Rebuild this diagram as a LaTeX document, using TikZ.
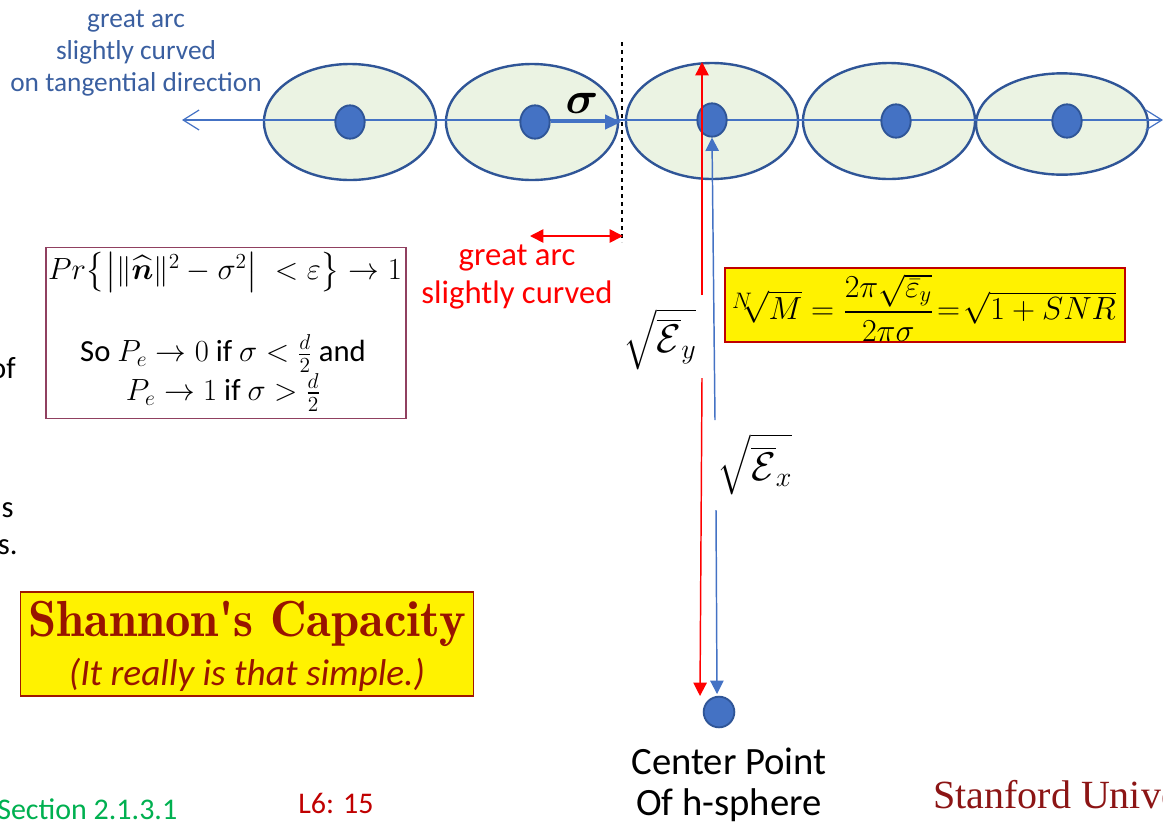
\RequirePackage{fix-cm}
\documentclass[tikz,border=0pt]{standalone}
\usepackage{amsmath,bm}
\usepackage{fontspec}
\setmainfont{Carlito}
\newfontfamily\stanfont{Liberation Serif}
\newcommand\lmfam{\fontfamily{lmr}\selectfont}
\usetikzlibrary{arrows.meta,shapes.geometric}
\definecolor{blueline}{HTML}{4472C4}
\definecolor{celldraw}{HTML}{2F5597}
\definecolor{cellfill}{HTML}{EBF3E3}
\definecolor{dotfill}{HTML}{4472C4}
\definecolor{txtblue}{HTML}{3A5FA0}
\definecolor{boxdraw}{HTML}{904060}
\definecolor{ybdraw}{HTML}{C00000}
\definecolor{shandraw}{HTML}{A01800}
\definecolor{shantext}{HTML}{981400}
\definecolor{stanred}{HTML}{8C1515}
\definecolor{secgreen}{HTML}{00B050}
\definecolor{lred}{HTML}{C00000}
\definecolor{redarr}{HTML}{FF0000}
\begin{document}
\begin{tikzpicture}[x=0.75pt,y=-0.75pt,
  cell/.style={ellipse, draw=celldraw, fill=cellfill, line width=1.8pt, inner sep=0pt, minimum width=129pt, minimum height=87pt},
  dot/.style={ellipse, draw=celldraw, fill=dotfill, line width=1.4pt, inner sep=0pt, minimum width=22pt, minimum height=25pt},
  lbl/.style={inner sep=0pt, align=center},
  redtip/.style={-{Triangle[length=10pt,width=10pt]}},
  bluetip/.style={-{Triangle[length=10pt,width=10pt]}},
]
\useasboundingbox (0,0) rectangle (1163,822);
% cells
\node[cell] (c1) at (350,122) {};
\node[cell] (c2) at (532,122) {};
\node[cell] (c3) at (712,121) {};
\node[cell] (c4) at (889,121) {};
\node[cell, minimum height=76pt] (c5) at (1062,124) {};
% tangential line
\coordinate (tl) at (182,120);
\coordinate (tr) at (1163,120);
\draw[blueline, line width=0.9pt, {Straight Barb[length=12pt,width=15pt]}-{Straight Barb[length=12pt,width=15pt]}] (tl) -- (tr);
% dots
\node[dot] (d1) at (350,122) {};
\node[dot] (d2) at (535,122) {};
\node[dot] (d3) at (712,120) {};
\node[dot] (d4) at (896,121) {};
\node[dot] (d5) at (1067,121) {};
\node[dot, minimum width=23pt, minimum height=23pt] (d0) at (719,712) {};
% sigma arrow
\coordinate (sg) at (621,122);
\draw[blueline, line width=1.6pt, -{Triangle[length=12pt,width=11pt]}] (d2.east) -- (sg);
\node[lbl, font=\fontsize{34}{38}\selectfont] (sigma) at (582,103) {$\bm{\sigma}$};
% dashed boundary
\coordinate (dsh1) at (622,42);
\coordinate (dsh2) at (622,242);
\draw[black, dashed, line width=0.9pt] (dsh1) -- (dsh2);
% red double arrow
\coordinate (ra1) at (530,236);
\coordinate (ra2) at (623,236);
\draw[redarr, line width=1.2pt, {Triangle[length=10pt,width=10pt]}-{Triangle[length=10pt,width=10pt]}] (ra1) -- (ra2);
\node[lbl, text=redarr, font=\fontsize{24.5}{29}\selectfont] (arcred) at (517,277) {great arc\\ slightly curved};
% red radial arrow
\coordinate (rtop) at (702,62);
\coordinate (rg1) at (702,295);
\coordinate (rg2) at (702,378);
\coordinate (rbot) at (700,696);
\draw[redarr, line width=1.1pt, redtip] (rg1) -- (rtop);
\draw[redarr, line width=1.1pt, redtip] (rg2) -- (rbot);
% blue radial arrow
\coordinate (bg1) at (715,420);
\coordinate (bg2) at (716,510);
\coordinate (bbot) at (717,694);
\draw[blueline, line width=1.1pt, bluetip] (bg1) -- (d3.south);
\draw[blueline, line width=1.1pt, bluetip] (bg2) -- (bbot);
% energy labels
\node[lbl, font=\fontsize{30}{34}\selectfont] (ey) at (660,339) {$\sqrt{\overline{\mathcal{E}}_{y}}$};
\node[lbl, font=\fontsize{30}{34}\selectfont] (ex) at (755,464) {$\sqrt{\overline{\mathcal{E}}_{x}}$};
% center point text
\node[lbl, font=\fontsize{29}{31}\selectfont] (cpt) at (729,785) {Center Point\\ Of h-sphere};
% top-left blue text
\node[lbl, text=txtblue, font=\fontsize{20.5}{24}\selectfont] (tang) at (136,53) {great arc\\ slightly curved\\ on tangential direction};
% probability box
\node[draw=boxdraw, line width=1.2pt, minimum width=270pt, minimum height=128pt, inner sep=0pt] (pbox) at (226,333) {};
\node[lbl, font=\fontsize{23}{27}\selectfont] (pr) at (225,272) {$Pr\big\{\big|\|\widehat{\bm n}\|^2-\sigma^2\big|\;<\varepsilon\big\}\to 1$};
\node[lbl, font=\fontsize{23}{29}\selectfont] (pe) at (223,373) {So $P_e\to 0$ if $\sigma<\frac{d}{2}$ and\\ $P_e\to 1$ if $\sigma>\frac{d}{2}$};
% yellow formula box
\node[draw=ybdraw, fill=yellow, line width=1.2pt, minimum width=300pt, minimum height=55.5pt, inner sep=0pt] (ybox) at (925,305) {};
\node[lbl, font=\fontsize{24}{28}\selectfont] (snr) at (924,308) {${}^{N}\!\!\sqrt{M}=\dfrac{2\pi\sqrt{\bar{\varepsilon}_y}}{2\pi\sigma}\!=\!\sqrt{1+SNR}$};
% cut-off left text
\node[lbl, anchor=east, font=\fontsize{23}{27}\selectfont] (of) at (16,368) {of};
\node[lbl, anchor=east, font=\fontsize{23}{27}\selectfont] (s1) at (14,510) {s};
\node[lbl, anchor=east, font=\fontsize{23}{27}\selectfont] (s2) at (18,547) {s.};
% Shannon box
\node[draw=shandraw, fill=yellow, line width=1.2pt, minimum width=340pt, minimum height=78pt, inner sep=0pt] (shan) at (247,644) {};
\node[lbl, text=shantext, font=\lmfam\bfseries\fontsize{38}{42}\selectfont] (shant) at (247,624) {Shannon\textquotesingle s Capacity};
\node[lbl, text=shantext, font=\itshape\fontsize{28}{32}\selectfont] (shani) at (247,675) {(It really is that simple.)};
% footer
\node[lbl, anchor=west, text=secgreen, font=\fontsize{22.5}{26}\selectfont] (sec) at (-3,809) {Section 2.1.3.1};
\node[lbl, text=lred, font=\fontsize{22.5}{26}\selectfont] (l6) at (336,803) {L6: 15};
\node[lbl, anchor=west, text=stanred, font=\stanfont\fontsize{30}{34}\selectfont] (stan) at (933,799) {Stanford University};
\end{tikzpicture}
\end{document}
